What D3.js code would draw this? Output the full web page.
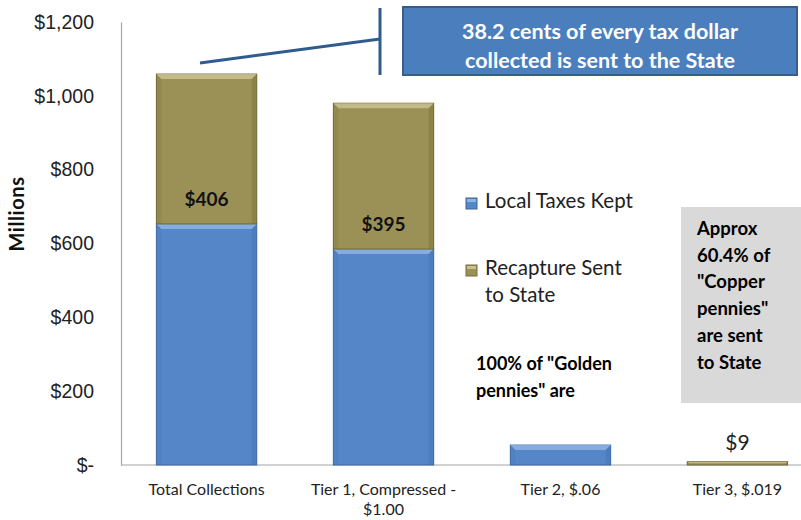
<!DOCTYPE html>
<html>
<head>
<meta charset="utf-8">
<script src="https://cdn.jsdelivr.net/npm/d3@7"></script>
<style>
  body { margin: 0; background: #fff; }
  svg { display: block; font-family: Lato, "Open Sans", sans-serif; }
</style>
</head>
<body>
<svg id="chart" width="801" height="520"></svg>
<script>
// Revenue split per tier, in millions of dollars
const categories = ["Total Collections", "Tier 1, Compressed - $1.00", "Tier 2, $.06", "Tier 3, $.019"];
const categoryLines = [["Total Collections"], ["Tier 1, Compressed -", "$1.00"], ["Tier 2, $.06"], ["Tier 3, $.019"]];
const localKept = [653, 585, 54, 0];
const recapture = [406, 395, 0, 9];
const recaptureLabels = ["$406", "$395", "", "$9"];
const seriesNames = ["Local Taxes Kept", "Recapture Sent to State"];
const yTicks = [0, 200, 400, 600, 800, 1000, 1200];

const svg = d3.select("#chart");
const x = d3.scaleBand().domain(categories).range([121, 823]).paddingInner(0.433).paddingOuter(0.2);
const y = d3.scaleLinear().domain([0, 1200]).range([465, 22]);

const colors = { local: "#5587c8", localHi: "#8fb4e3", localLo: "#3c6aa5",
                 recap: "#9b9157", recapHi: "#c9c28f", recapLo: "#6f6835" };

// y axis
const yAxis = d3.axisLeft(y).tickValues(yTicks).tickSize(0).tickPadding(27)
  .tickFormat(d => d === 0 ? "$-" : "$" + d3.format(",")(d));
const gy = svg.append("g").attr("transform", "translate(121,0)").call(yAxis);
gy.select(".domain").attr("stroke", "#a6a6a6").attr("stroke-width", 1.2);
gy.selectAll("text").attr("font-size", 19.5).attr("fill", "#222");

// x baseline
svg.append("line").attr("x1", 121).attr("x2", 801).attr("y1", y(0)).attr("y2", y(0))
  .attr("stroke", "#a6a6a6").attr("stroke-width", 1.2);

svg.append("text").attr("transform", "translate(19,214) rotate(-90)")
  .attr("text-anchor", "middle").attr("dominant-baseline", "middle")
  .attr("font-weight", "bold").attr("font-size", 20).attr("letter-spacing", 0.6)
  .attr("fill", "#111").text("Millions");

// bevelled bar segment
function segment(g, x0, w, v0, v1, c, hi, lo) {
  const top = y(v1), bot = y(v0), h = bot - top;
  if (h <= 0) return;
  g.append("rect").attr("x", x0).attr("y", top).attr("width", w).attr("height", h)
    .attr("fill", c).attr("stroke", lo).attr("stroke-width", 1);
  const b = Math.min(5, h / 2);
  g.append("path").attr("d", `M${x0},${top} L${x0 + w},${top} L${x0 + w - b},${top + b} L${x0 + b},${top + b} Z`)
    .attr("fill", hi).attr("opacity", 0.85);
  g.append("path").attr("d", `M${x0 + w},${top} L${x0 + w},${bot} L${x0 + w - b},${bot} L${x0 + w - b},${top + b} Z`)
    .attr("fill", lo).attr("opacity", 0.35);
  g.append("path").attr("d", `M${x0},${top} L${x0},${bot} L${x0 + b},${bot} L${x0 + b},${top + b} Z`)
    .attr("fill", lo).attr("opacity", 0.2);
}

const bars = svg.append("g");
categories.forEach((cat, i) => {
  const x0 = x(cat), w = x.bandwidth();
  segment(bars, x0, w, 0, localKept[i], colors.local, colors.localHi, colors.localLo);
  segment(bars, x0, w, localKept[i], localKept[i] + recapture[i], colors.recap, colors.recapHi, colors.recapLo);
});

// recapture value labels
const labelY = [y(localKept[0]) - 23, y(localKept[1]) - 23];
[0, 1].forEach(i => {
  svg.append("text").attr("x", x(categories[i]) + x.bandwidth() / 2).attr("y", labelY[i])
    .attr("text-anchor", "middle").attr("dominant-baseline", "middle")
    .attr("font-weight", "bold").attr("font-size", 19).attr("fill", "#111").text(recaptureLabels[i]);
});
svg.append("text").attr("x", x(categories[3]) + x.bandwidth() / 2).attr("y", y(localKept[3] + recapture[3]) - 17)
  .attr("text-anchor", "middle").attr("dominant-baseline", "middle")
  .attr("font-size", 21).attr("fill", "#222").text(recaptureLabels[3]);

// category labels
categories.forEach((cat, i) => {
  const t = svg.append("text").attr("x", x(cat) + x.bandwidth() / 2).attr("y", 495)
    .attr("text-anchor", "middle").attr("font-size", 16).attr("fill", "#222");
  categoryLines[i].forEach((ln, j) => t.append("tspan").attr("x", x(cat) + x.bandwidth() / 2).attr("dy", j ? 20 : 0).text(ln));
});

// legend
const leg = [
  { name: ["Local Taxes Kept"], c: colors.local, hi: colors.localHi, y: 203 },
  { name: ["Recapture Sent", "to State"], c: colors.recap, hi: colors.recapHi, y: 270 }
];
leg.forEach(l => {
  svg.append("rect").attr("x", 466).attr("y", l.y - 5).attr("width", 11).attr("height", 11)
    .attr("fill", l.c).attr("stroke", d3.color(l.c).darker(0.8));
  svg.append("rect").attr("x", 467).attr("y", l.y - 4).attr("width", 9).attr("height", 3).attr("fill", l.hi);
  const t = svg.append("text").attr("x", 485).attr("y", l.y).attr("dominant-baseline", "middle")
    .attr("font-size", 20.5).attr("fill", "#222");
  l.name.forEach((ln, j) => t.append("tspan").attr("x", 485).attr("dy", j ? 27 : 0).text(ln));
});

// golden pennies note
const gold = svg.append("text").attr("x", 476).attr("y", 365).attr("dominant-baseline", "middle")
  .attr("font-weight", "bold").attr("font-size", 18).attr("fill", "#000");
["100% of \"Golden", "pennies\" are"].forEach((ln, j) => gold.append("tspan").attr("x", 476).attr("dy", j ? 27 : 0).text(ln));

// copper pennies box
svg.append("rect").attr("x", 681).attr("y", 207).attr("width", 125).attr("height", 196).attr("fill", "#d9d9d9");
const cop = svg.append("text").attr("x", 697).attr("y", 230).attr("dominant-baseline", "middle")
  .attr("font-weight", "bold").attr("font-size", 18.5).attr("fill", "#000");
["Approx", "60.4% of", "\"Copper", "pennies\"", "are sent", "to State"]
  .forEach((ln, j) => cop.append("tspan").attr("x", 697).attr("dy", j ? 26.7 : 0).text(ln));

// callout
svg.append("line").attr("x1", 200).attr("y1", 63).attr("x2", 380).attr("y2", 39)
  .attr("stroke", "#2f5b8f").attr("stroke-width", 3);
svg.append("line").attr("x1", 380).attr("y1", 8).attr("x2", 380).attr("y2", 75)
  .attr("stroke", "#2f5b8f").attr("stroke-width", 3);
svg.append("rect").attr("x", 403).attr("y", 7).attr("width", 394).attr("height", 68)
  .attr("fill", "#4b7ebd").attr("stroke", "#385d8a").attr("stroke-width", 2);
const co = svg.append("text").attr("x", 600).attr("y", 33).attr("text-anchor", "middle")
  .attr("dominant-baseline", "middle").attr("font-weight", "bold").attr("font-size", 21.5).attr("fill", "#fff");
["38.2 cents of every tax dollar", "collected is sent to the State"]
  .forEach((ln, j) => co.append("tspan").attr("x", 600).attr("dy", j ? 29 : 0).text(ln));
</script>
</body>
</html>
